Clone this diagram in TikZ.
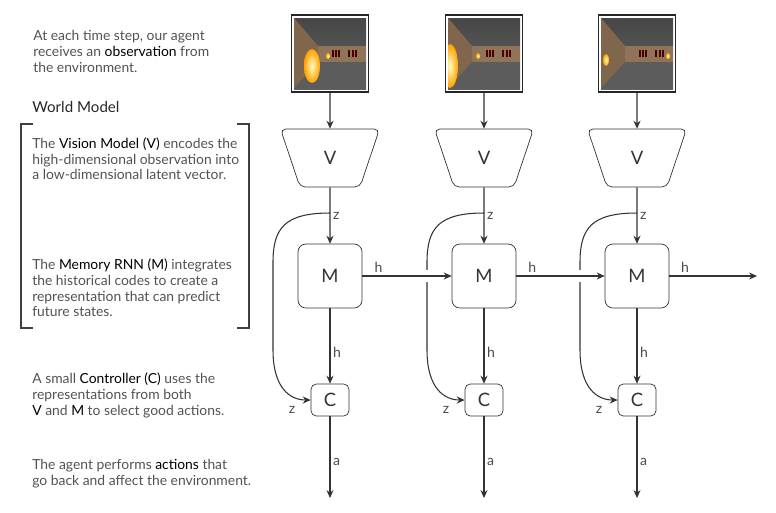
\documentclass[tikz,border=0pt]{standalone}
\usepackage{fontspec}
\setmainfont{Lato}
\usetikzlibrary{arrows.meta,shapes.geometric}
\newcommand\kw[1]{\textcolor{black}{#1}}
\tikzset{
	note/.style={anchor=north west, align=left, inner sep=0pt, text=black!68, font=\fontsize{7.9}{9.07}\selectfont},
	encoder/.style={draw=black!80, fill=white, trapezium, shape border rotate=180, trapezium stretches=true, trapezium left angle=73, trapezium right angle=73, minimum width=1.98cm, minimum height=1.16cm, rounded corners=3pt, inner sep=0pt, text=black!80, font=\fontsize{10.5}{12}\selectfont},
	memory/.style={draw=black!80, fill=white, rectangle, rounded corners=4.5pt, minimum width=1.28cm, minimum height=1.28cm, inner sep=0pt, text=black!80, font=\fontsize{10.5}{12}\selectfont},
	ctrl/.style={draw=black!80, fill=white, rectangle, rounded corners=3pt, minimum width=0.76cm, minimum height=0.64cm, inner sep=0pt, text=black!80, font=\fontsize{10.5}{12}\selectfont},
	frame/.style={draw=black!85, fill=white, line width=0.7pt, minimum size=1.54cm, inner sep=0pt},
	flow/.style={draw=black!80, line width=0.6pt, -{Stealth[length=4.5pt,width=4pt]}},
	lbl/.style={inner sep=1.5pt, text=black!70, font=\fontsize{8}{9}\selectfont},
}
\begin{document}
\begin{tikzpicture}[x=0.02cm, y=-0.02cm]
	\useasboundingbox (0,0) rectangle (776,512);
	% left column text
	\node[note] (t1) at (33,30) {At each time step, our agent\\receives an \kw{observation} from\\the environment.};
	\node[anchor=west, inner sep=0pt, text=black!85, font=\fontsize{8.6}{11}\selectfont] (wm) at (32,107) {World Model};
	\node[note] (t2) at (32,137) {The \kw{Vision Model (V)} encodes the\\high-dimensional observation into\\a low-dimensional latent vector.};
	\node[note] (t3) at (32,258) {The \kw{Memory RNN (M)} integrates\\the historical codes to create a\\representation that can predict\\future states.};
	\node[note] (t4) at (32,372) {A small \kw{Controller (C)} uses the\\representations from both\\\kw{V} and \kw{M} to select good actions.};
	\node[note] (t5) at (32,459) {The agent performs \kw{actions} that\\go back and affect the environment.};
	\draw[black!75, line width=0.8pt] (33,124) -- (21,124) -- (21,328) -- (33,328);
	\draw[black!75, line width=0.8pt] (237,124) -- (249,124) -- (249,328) -- (237,328);
	% one column per time step
	\foreach \i/\x/\fx/\fy/\frx/\fry/\lx in {1/330/-18/66/8/17/-2, 2/484/-34/66/8/22/-6, 3/637/-31/60/3/6/31} {
		\node[frame] (img\i) at (\x,53.5) {};
		\begin{scope}
			\clip (\x-36,18) rectangle (\x+36,89);
			\shade[top color=black!72, bottom color=black!62] (\x-36,18) rectangle (\x+36,89);
			\fill[black!64] (\x-36,54) rectangle (\x+36,89);
			\fill[brown!55!black!75] (\x-12,46) rectangle (\x+36,62);
			\fill[brown!50!black!80] (\x-36,18) -- (\x-12,46) -- (\x-12,62) -- (\x-36,88) -- cycle;
			\foreach \w in {2,5,8,18,22,25}
				\fill[red!30!black] (\x+\w,50) rectangle ++(1.6,7);
			\shade[inner color=yellow!30!white, outer color=orange!70!yellow] (\x+\lx,56) ellipse [x radius=2, y radius=3];
			\shade[inner color=yellow!25!white, outer color=orange!75!yellow] (\x+\fx,\fy) ellipse [x radius=\frx, y radius=\fry];
		\end{scope}
		\node[encoder] (v\i) at (\x,158) {V};
		\node[memory] (m\i) at (\x,276) {M};
		\node[ctrl] (c\i) at (\x,400) {C};
		\coordinate (z\i) at (\x,213);
		\coordinate (a\i) at (\x,498);
		\draw[flow] (img\i) -- (v\i);
		\draw[flow] (v\i) -- node[lbl, right, pos=.5] {z} (m\i);
		\draw[flow] (m\i) -- node[lbl, right, pos=.58] {h} (c\i);
		\draw[flow] (c\i) -- node[lbl, right, pos=.56] {a} (a\i);
		\draw[flow] (z\i) .. controls (\x-45,213) and (\x-57,228) .. (\x-57,262) -- (\x-57,350) .. controls (\x-57,388) and (\x-40,400) .. (c\i.west);
		\node[lbl] (zc\i) at (\x-38,410) {z};
	}
	% recurrent state
	\coordinate (hend) at (757,276);
	\foreach \p/\q in {m1/m2, m2/m3, m3/hend} {
		\draw[white, line width=7pt, shorten <=4pt, shorten >=4pt] (\p) -- (\q);
		\draw[flow] (\p) -- node[lbl, above, pos=.18] {h} (\q);
	}
\end{tikzpicture}
\end{document}
